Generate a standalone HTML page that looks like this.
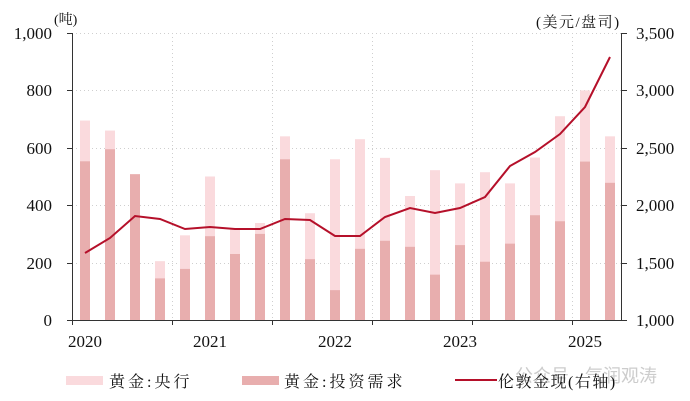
<!DOCTYPE html>
<html><head><meta charset="utf-8"><style>
body{margin:0;background:#fff;}
svg{display:block;}
text{font-family:"Liberation Serif","Noto Serif CJK SC",serif;fill:#111;}
</style></head><body>
<svg width="690" height="401" viewBox="0 0 690 401" xmlns="http://www.w3.org/2000/svg">
<g stroke="#cfcfcf" stroke-width="1" stroke-dasharray="1,3">
<line x1="72" y1="33.5" x2="622" y2="33.5"/>
<line x1="72" y1="90.5" x2="622" y2="90.5"/>
<line x1="72" y1="148.5" x2="622" y2="148.5"/>
<line x1="72" y1="205.5" x2="622" y2="205.5"/>
<line x1="72" y1="263.5" x2="622" y2="263.5"/>
<line x1="172.5" y1="33" x2="172.5" y2="320"/>
<line x1="272.5" y1="33" x2="272.5" y2="320"/>
<line x1="372.5" y1="33" x2="372.5" y2="320"/>
<line x1="472.5" y1="33" x2="472.5" y2="320"/>
<line x1="572.5" y1="33" x2="572.5" y2="320"/>
</g>
<g id="bars"></g>
<polyline fill="none" stroke="#b5102a" stroke-width="2" points="85,253 110,238 135,216 160,219 185,229 210,227 235,229 260,229 285,219 310,220 335,236 360,236 385,217 410,208 435,213 460,208 485,197 510,166 535,152 560,134 585,107 610,57"/>
<g stroke="#333" stroke-width="1">
<line x1="72.5" y1="33" x2="72.5" y2="320"/>
<line x1="621.5" y1="33" x2="621.5" y2="320"/>
<line x1="72" y1="320.5" x2="622" y2="320.5"/>
<line x1="67" y1="33.5" x2="72" y2="33.5"/><line x1="67" y1="90.5" x2="72" y2="90.5"/><line x1="67" y1="148.5" x2="72" y2="148.5"/><line x1="67" y1="205.5" x2="72" y2="205.5"/><line x1="67" y1="263.5" x2="72" y2="263.5"/><line x1="67" y1="320.5" x2="72" y2="320.5"/>
<line x1="622" y1="33.5" x2="627" y2="33.5"/><line x1="622" y1="90.5" x2="627" y2="90.5"/><line x1="622" y1="148.5" x2="627" y2="148.5"/><line x1="622" y1="205.5" x2="627" y2="205.5"/><line x1="622" y1="263.5" x2="627" y2="263.5"/><line x1="622" y1="320.5" x2="627" y2="320.5"/>
<line x1="72.5" y1="320" x2="72.5" y2="325"/><line x1="172.5" y1="320" x2="172.5" y2="325"/><line x1="272.5" y1="320" x2="272.5" y2="325"/><line x1="372.5" y1="320" x2="372.5" y2="325"/><line x1="472.5" y1="320" x2="472.5" y2="325"/><line x1="572.5" y1="320" x2="572.5" y2="325"/>
</g>
<g font-size="17" text-anchor="end">
<text x="52" y="39">1,000</text><text x="52" y="96">800</text><text x="52" y="154">600</text><text x="52" y="211">400</text><text x="52" y="269">200</text><text x="52" y="326">0</text>
</g>
<g font-size="17">
<text x="636" y="39">3,500</text><text x="636" y="96">3,000</text><text x="636" y="154">2,500</text><text x="636" y="211">2,000</text><text x="636" y="269">1,500</text><text x="636" y="326">1,000</text>
</g>
<g font-size="17" text-anchor="middle">
<text x="85" y="347">2020</text><text x="210" y="347">2021</text><text x="335" y="347">2022</text><text x="460" y="347">2023</text><text x="585" y="347">2025</text>
</g>
<text x="54" y="24" font-size="14">(吨)</text>
<text x="536" y="27" font-size="15" letter-spacing="1.5">(美元/盘司)</text>
<text x="515" y="382" font-size="18" style="fill:#cccccc;font-family:'Liberation Sans','Noto Sans CJK SC',sans-serif">公众号 · 气润观涛</text>
<rect x="66" y="376" width="37" height="9" fill="#fadadd"/>
<text x="109" y="387" font-size="16" letter-spacing="3">黄金:央行</text>
<rect x="242" y="376" width="37" height="9" fill="#e8aeae"/>
<text x="284" y="387" font-size="16" letter-spacing="3">黄金:投资需求</text>
<line x1="455" y1="380" x2="497" y2="380" stroke="#b5102a" stroke-width="2"/>
<text x="498" y="387" font-size="16" letter-spacing="1.5">伦敦金现(右轴)</text>
</svg>
<script>
var tot=[695,660,508,205,295,500,318,338,640,372,560,630,565,432,522,476,515,476,566,710,800,640];
var inv=[553,595,508,145,178,292,230,300,560,212,104,248,276,255,158,261,203,266,365,344,552,478];
var g=document.getElementById('bars'),s='';
for(var i=0;i<22;i++){var x=80+25*i;var yt=320-tot[i]*0.287,yi=320-inv[i]*0.287;
s+='<rect x="'+x+'" y="'+yt+'" width="10" height="'+(320-yt)+'" fill="#fadadd"/>';
s+='<rect x="'+x+'" y="'+yi+'" width="10" height="'+(320-yi)+'" fill="#e8aeae"/>';}
g.innerHTML=s;
</script>
</body></html>
